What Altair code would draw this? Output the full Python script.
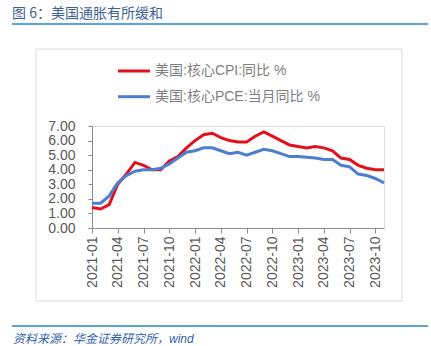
import altair as alt
import pandas as pd

months = [
    "2021-01", "2021-02", "2021-03", "2021-04", "2021-05", "2021-06",
    "2021-07", "2021-08", "2021-09", "2021-10", "2021-11", "2021-12",
    "2022-01", "2022-02", "2022-03", "2022-04", "2022-05", "2022-06",
    "2022-07", "2022-08", "2022-09", "2022-10", "2022-11", "2022-12",
    "2023-01", "2023-02", "2023-03", "2023-04", "2023-05", "2023-06",
    "2023-07", "2023-08", "2023-09", "2023-10", "2023-11",
]
core_cpi = [1.4, 1.3, 1.6, 3.0, 3.7, 4.5, 4.3, 4.0, 4.0, 4.6, 4.9, 5.5,
            6.0, 6.4, 6.5, 6.2, 6.0, 5.9, 5.9, 6.3, 6.6, 6.3, 6.0, 5.7,
            5.6, 5.5, 5.6, 5.5, 5.3, 4.8, 4.7, 4.3, 4.1, 4.0, 4.0]
core_pce = [1.7, 1.7, 2.2, 3.1, 3.6, 3.9, 4.0, 4.0, 4.1, 4.4, 4.8, 5.2,
            5.3, 5.5, 5.5, 5.3, 5.1, 5.2, 5.0, 5.2, 5.4, 5.3, 5.1, 4.9,
            4.9, 4.85, 4.8, 4.7, 4.7, 4.3, 4.2, 3.7, 3.6, 3.4, 3.1]
quarter_ticks = ["2021-01", "2021-04", "2021-07", "2021-10",
                 "2022-01", "2022-04", "2022-07", "2022-10",
                 "2023-01", "2023-04", "2023-07", "2023-10"]
y_ticks = [0, 1, 2, 3, 4, 5, 6, 7]
series_names = ["美国:核心CPI:同比 %", "美国:核心PCE:当月同比 %"]
series_colors = ["#e2101d", "#4d7fd1"]
title_text = "图 6：美国通胀有所缓和"
source_text = "资料来源：华金证券研究所，wind"

RED, BLUE = series_colors
FONT_NUM = "Liberation Sans"
FONT_MIX = "Liberation Sans, Noto Sans CJK SC"
FONT_CJK = "Noto Sans CJK SC"
ACCENT = "#5aa6db"

df_cpi = pd.DataFrame({"month": months, "value": core_cpi})
df_pce = pd.DataFrame({"month": months, "value": core_pce})

x_enc = alt.X(
    "month:O",
    sort=months,
    scale=alt.Scale(type="point", padding=0),
    axis=alt.Axis(
        values=quarter_ticks, labelAngle=270, title=None,
        labelFont=FONT_NUM, labelFontSize=14, labelColor="#595959",
        domainColor="#8c8c8c", tickColor="#8c8c8c", tickSize=5,
        labelPadding=3, grid=False,
    ),
)
y_enc = alt.Y(
    "value:Q",
    scale=alt.Scale(domain=[0, 7], nice=False, zero=True),
    axis=alt.Axis(
        values=y_ticks, format=".2f", title=None,
        labelFont=FONT_NUM, labelFontSize=14, labelColor="#595959",
        domainColor="#8c8c8c", tickColor="#8c8c8c", tickSize=4,
        labelPadding=13, grid=False,
    ),
)

one = pd.DataFrame({"a": [0]})

box = alt.Chart(one).mark_rect(
    fill="transparent", stroke="#d9d9d9", strokeWidth=1
).encode(
    x=alt.value(-56), x2=alt.value(310), y=alt.value(-77), y2=alt.value(175)
)

line_cpi = alt.Chart(df_cpi).mark_line(color=RED, strokeWidth=3).encode(x=x_enc, y=y_enc)
line_pce = alt.Chart(df_pce).mark_line(color=BLUE, strokeWidth=3).encode(x=x_enc, y=y_enc)

title_mark = alt.Chart(pd.DataFrame({"t": [title_text]})).mark_text(
    font=FONT_CJK, fontSize=14, color="#3d6298", align="left", baseline="middle"
).encode(x=alt.value(-80), y=alt.value(-112), text="t:N")

top_rule = alt.Chart(one).mark_rule(color=ACCENT, strokeWidth=2).encode(
    x=alt.value(-80), x2=alt.value(336), y=alt.value(-102)
)
bottom_rule = alt.Chart(one).mark_rule(color=ACCENT, strokeWidth=2).encode(
    x=alt.value(-80), x2=alt.value(336), y=alt.value(200)
)
source_mark = alt.Chart(pd.DataFrame({"t": [source_text]})).mark_text(
    font=FONT_MIX, fontSize=12, fontStyle="italic", color="#2f5fae",
    align="left", baseline="middle"
).encode(x=alt.value(-79), y=alt.value(213), text="t:N")

leg_layers = []
for i, (name, col) in enumerate(zip(series_names, series_colors)):
    yy = -55 + i * 25.7
    leg_layers.append(
        alt.Chart(one).mark_rule(color=col, strokeWidth=3).encode(
            x=alt.value(26), x2=alt.value(58), y=alt.value(yy)
        )
    )
    leg_layers.append(
        alt.Chart(pd.DataFrame({"t": [name]})).mark_text(
            font=FONT_MIX, fontSize=14, color="#7f7f7f", align="left", baseline="middle"
        ).encode(x=alt.value(63), y=alt.value(yy), text="t:N")
    )

chart = alt.layer(
    box, line_cpi, line_pce, title_mark, top_rule, bottom_rule, source_mark, *leg_layers
).properties(
    width=292, height=102,
    autosize=alt.AutoSizeParams(type="none"),
    padding={"left": 92, "top": 126, "right": 47, "bottom": 118},
).configure_view(stroke="transparent").configure(background="white")

chart.save("out.html", embed_options={"renderer": "svg", "actions": False})
